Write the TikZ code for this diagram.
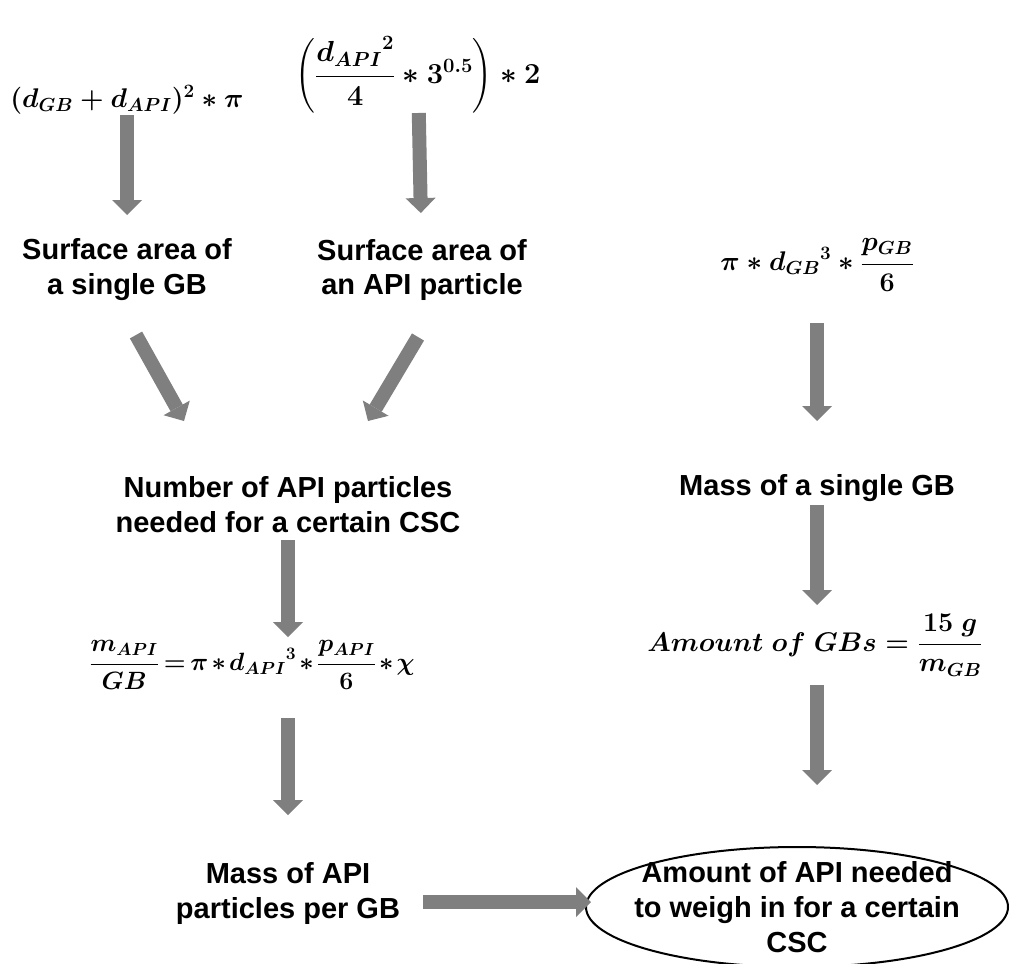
\RequirePackage{fix-cm}
\documentclass[tikz,border=0pt]{standalone}
\usepackage{amsmath}
\usepackage[no-math]{fontspec}
\usepackage{tikz}
\usetikzlibrary{arrows.meta,calc}
\newfontfamily\labfont{Liberation Sans}
\definecolor{cArr}{HTML}{7F7F7F}
\definecolor{cInk}{HTML}{000000}

\begin{document}
\begin{tikzpicture}[x=1pt, y=-1pt, text=cInk,
  lab/.style={font=\labfont\bfseries\fontsize{29}{35}\selectfont, align=center, inner sep=0pt},
  eq/.style={font=\fontsize{#1}{37}\selectfont\boldmath, inner sep=0pt},
  eq/.default=27,
  flow/.style={draw=cArr, line width=14pt, -{Triangle[width=30pt,length=15pt,line width=0pt]}}]
  \useasboundingbox (0,0) rectangle (1011,963);
  % left branch: surface areas
  \node[eq] (f1) at (127,100) {$(d_{GB}+d_{API})^{2}\ast\pi$};
  \node[eq=29] (f2) at (418,75) {$\left(\dfrac{{d_{API}}^{2}}{4}\ast 3^{0.5}\right)\ast 2$};
  \node[lab] (s1) at (127,270) {Surface area of\\a single GB};
  \node[lab] (s2) at (422,270) {Surface area of\\an API particle};
  \node[lab] (n1) at (288,505) {Number of API particles\\needed for a certain CSC};
  \node[eq=25] (f4) at (252,665) {\medmuskip=2mu\thickmuskip=3mu
    $\dfrac{m_{API}}{GB}=\pi\ast{d_{API}}^{3}\ast\dfrac{p_{API}}{6}\ast\chi$};
  \node[lab] (p1) at (288,893) {Mass of API\\particles per GB};
  % right branch: glass beads
  \node[eq] (f3) at (817,265) {$\pi\ast{d_{GB}}^{3}\ast\dfrac{p_{GB}}{6}$};
  \node[lab] (m1) at (817,488) {Mass of a single GB};
  \node[eq] (g1) at (815,645) {$Amount\ of\ GBs=\dfrac{15\ g}{m_{GB}}$};
  \node[lab] (e1) at (797,907) {Amount of API needed\\to weigh in for a certain\\CSC};
  \draw[line width=2pt] (e1) ellipse [x radius=211, y radius=60];
  % arrows
  \draw[flow, shorten <=15pt, shorten >=55pt] (f1.center) -- (s1.center);
  \draw[flow, shorten <=38pt, shorten >=57pt] (f2.center) -- (s2.center);
  \draw[flow] ($(s1)+(9,65)$) -- ($(n1)+(-104,-84)$);
  \draw[flow] ($(s2)+(-4,67)$) -- ($(n1)+(80,-84)$);
  \draw[flow, shorten <=35pt, shorten >=28pt] (n1.center) -- (n1 |- f4);
  \draw[flow, shorten <=53pt, shorten >=78pt] (p1 |- f4) -- (p1.center);
  \draw[flow, shorten <=58pt, shorten >=67pt] (f3.center) -- (m1.center);
  \draw[flow, shorten <=17pt, shorten >=40pt] (m1.center) -- (g1.center -| m1);
  \draw[flow, shorten <=40pt, shorten >=122pt] (g1.center -| m1) -- (e1 -| m1);
  \draw[flow] ($(p1)+(135,9)$) -- ($(e1)+(-206,-5)$);
\end{tikzpicture}
\end{document}
